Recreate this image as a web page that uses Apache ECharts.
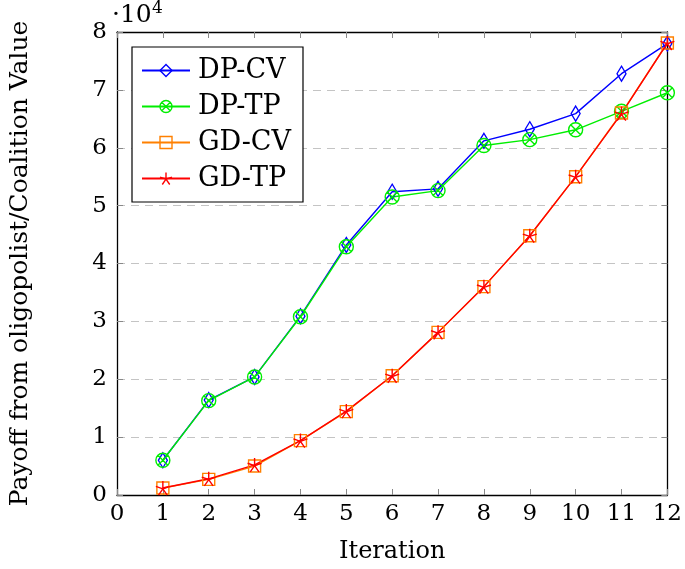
<!DOCTYPE html>
<html>
<head>
<meta charset="utf-8">
<script src="https://cdn.jsdelivr.net/npm/echarts@6/dist/echarts.min.js"></script>
<style>
html,body{margin:0;padding:0;background:#fff;}
#chart{width:685px;height:569px;}
</style>
</head>
<body>
<div id="chart"></div>
<script>
// Iterations (x values)
const iterations = [1, 2, 3, 4, 5, 6, 7, 8, 9, 10, 11, 12];
// Payoff values (raw, axis shown in units of 10^4)
const dpCV = [6000, 16400, 20400, 30900, 43200, 52400, 52900, 61200, 63200, 65900, 72800, 78000];
const dpTP = [6000, 16300, 20400, 30800, 42900, 51500, 52600, 60400, 61400, 63100, 66300, 69500];
const gdCV = [1200, 2700, 5000, 9400, 14400, 20600, 28100, 36000, 44800, 55000, 66000, 78100];
const gdTP = [1200, 2800, 5200, 9400, 14500, 20600, 28100, 36000, 44800, 55000, 65900, 78100];
const seriesNames = ['DP-CV', 'DP-TP', 'GD-CV', 'GD-TP'];
const xTicks = [0, 1, 2, 3, 4, 5, 6, 7, 8, 9, 10, 11, 12];
const yTicks = [0, 1, 2, 3, 4, 5, 6, 7, 8];
const yScale = 10000;

const FONT = 'DejaVu Serif';
const pairs = arr => iterations.map((x, i) => [x, arr[i]]);

const SYM_DIAMOND = 'path://M5,0L10,10L5,20L0,10Z';
const SYM_OTIMES = 'path://M10,0A10,10,0,1,1,10,20A10,10,0,1,1,10,0ZM2.93,2.93L17.07,17.07M17.07,2.93L2.93,17.07';
const SYM_SQUARE = 'path://M0,0L10,0L10,10L0,10Z';
const SYM_STAR = 'path://M10,10L10,0M10,10L19.51,6.91M10,10L15.88,18.09M10,10L4.12,18.09M10,10L0.49,6.91';

function mkSeries(name, data, color, symbol, size) {
  return {
    name: name,
    type: 'line',
    data: pairs(data),
    symbol: symbol,
    symbolSize: size,
    showAllSymbol: true,
    lineStyle: { color: color, width: 1.4 },
    itemStyle: { color: 'transparent', borderColor: color, borderWidth: 1.4 },
    emphasis: { disabled: true },
    animation: false
  };
}

const chart = echarts.init(document.getElementById('chart'));
const axisLineStyle = { color: '#000', width: 1.3 };
const tickStyle = { color: '#888', width: 1 };

chart.setOption({
  backgroundColor: '#fff',
  animation: false,
  grid: { left: 113, top: 32, width: 559, height: 464, containLabel: false },
  legend: {
    orient: 'vertical',
    left: 132,
    top: 47,
    data: seriesNames,
    itemWidth: 48,
    itemHeight: 15,
    itemGap: 9,
    padding: [10, 12, 10, 9],
    borderColor: '#000',
    borderWidth: 1.2,
    backgroundColor: '#fff',
    itemStyle: { borderWidth: 1.4 },
    textStyle: { fontFamily: FONT, fontSize: 27, color: '#000', lineHeight: 26, padding: [0, 0, 0, 3] },
    selectedMode: false
  },
  xAxis: [
    {
      type: 'value', min: xTicks[0], max: xTicks[xTicks.length - 1], interval: 1,
      position: 'bottom',
      name: 'Iteration', nameLocation: 'middle', nameGap: 45,
      nameTextStyle: { fontFamily: FONT, fontSize: 24, color: '#000' },
      axisLine: { show: true, onZero: false, lineStyle: axisLineStyle },
      axisTick: { show: true, inside: true, length: 6, lineStyle: tickStyle },
      axisLabel: { fontFamily: FONT, fontSize: 23, color: '#000', margin: 8 },
      splitLine: { show: false }
    },
    {
      type: 'value', min: xTicks[0], max: xTicks[xTicks.length - 1], interval: 1,
      position: 'top',
      axisLine: { show: true, onZero: false, lineStyle: axisLineStyle },
      axisTick: { show: true, inside: true, length: 6, lineStyle: tickStyle },
      axisLabel: { show: false },
      splitLine: { show: false }
    }
  ],
  yAxis: [
    {
      type: 'value', min: yTicks[0] * yScale, max: yTicks[yTicks.length - 1] * yScale, interval: yScale,
      position: 'left',
      name: 'Payoff from oligopolist/Coalition Value', nameLocation: 'middle', nameGap: 84,
      nameTextStyle: { fontFamily: FONT, fontSize: 25, color: '#000' },
      axisLine: { show: true, onZero: false, lineStyle: axisLineStyle },
      axisTick: { show: true, inside: true, length: 6, lineStyle: tickStyle },
      axisLabel: { fontFamily: FONT, fontSize: 23, color: '#000', margin: 10, formatter: v => String(Math.round(v / yScale)) },
      splitLine: { show: true, lineStyle: { color: '#c4c4c4', width: 1.2, type: [8, 6] } }
    },
    {
      type: 'value', min: yTicks[0] * yScale, max: yTicks[yTicks.length - 1] * yScale, interval: yScale,
      position: 'right',
      axisLine: { show: true, onZero: false, lineStyle: axisLineStyle },
      axisTick: { show: true, inside: true, length: 6, lineStyle: tickStyle },
      axisLabel: { show: false },
      splitLine: { show: false }
    }
  ],
  graphic: [
    { type: 'text', left: 112, top: 3, style: { text: '·10', fontFamily: FONT, fontSize: 25, fill: '#000' } },
    { type: 'text', left: 152, top: 0, style: { text: '4', fontFamily: FONT, fontSize: 17, fill: '#000' } }
  ],
  series: [
    mkSeries(seriesNames[0], dpCV, '#0000ff', SYM_DIAMOND, [9, 15]),
    mkSeries(seriesNames[1], dpTP, '#00ee00', SYM_OTIMES, 14),
    mkSeries(seriesNames[2], gdCV, '#ff8000', SYM_SQUARE, 12),
    mkSeries(seriesNames[3], gdTP, '#ff0000', SYM_STAR, 14)
  ]
});
</script>
</body>
</html>
